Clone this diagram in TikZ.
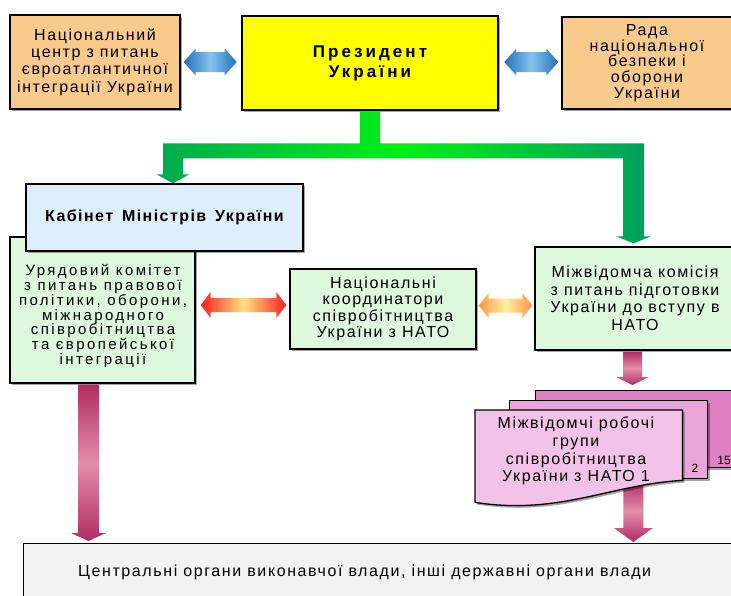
\documentclass[tikz,border=0pt]{standalone}
\usepackage{fontspec}
\setmainfont{Liberation Sans}
\newfontfamily\fa{Liberation Sans}[LetterSpace=10]
\newfontfamily\fu{Liberation Sans}[LetterSpace=16]
\newfontfamily\fp{Liberation Sans}[LetterSpace=18]
\newfontfamily\fk{Liberation Sans}[LetterSpace=9]
\usetikzlibrary{calc,shadows}
\definecolor{cTan}{RGB}{248,203,140}
\definecolor{cYel}{RGB}{255,255,0}
\definecolor{cLBlue}{RGB}{220,238,250}
\definecolor{cGreenBox}{RGB}{221,248,221}
\definecolor{cGrayBox}{RGB}{242,242,242}
\definecolor{cDa}{RGB}{243,194,232}
\definecolor{cDb}{RGB}{234,166,218}
\definecolor{cDc}{RGB}{222,128,194}
\definecolor{cBlueD}{RGB}{40,112,184}
\definecolor{cBlueL}{RGB}{130,195,240}
\definecolor{cRedE}{RGB}{255,30,30}
\definecolor{cRedM}{RGB}{255,226,130}
\definecolor{cOrE}{RGB}{255,150,70}
\definecolor{cOrM}{RGB}{255,238,160}
\definecolor{cPinkD}{RGB}{178,44,100}
\definecolor{cPinkL}{RGB}{226,142,170}
\definecolor{cGreenL}{RGB}{0,170,80}
\definecolor{cGreenM}{RGB}{0,240,20}
\definecolor{cGreenR}{RGB}{0,158,96}
% horizontal double block arrow: style, left point, right point, shaft half, head half, head length
\newcommand{\hblockarrow}[6]{%
  \path[#1] let \p1=(#2), \p2=(#3) in
    (\x1,\y1) -- (\x1+#6pt,\y1+#5pt) -- (\x1+#6pt,\y1+#4pt) -- (\x2-#6pt,\y1+#4pt)
    -- (\x2-#6pt,\y1+#5pt) -- (\x2,\y1) -- (\x2-#6pt,\y1-#5pt) -- (\x2-#6pt,\y1-#4pt)
    -- (\x1+#6pt,\y1-#4pt) -- (\x1+#6pt,\y1-#5pt) -- cycle;}
% vertical downward block arrow: style, top point, tip point, shaft half, head half, head length
\newcommand{\vblockarrow}[6]{%
  \path[#1] let \p1=(#2), \p2=(#3) in
    (\x1-#4pt,\y1) -- (\x1+#4pt,\y1) -- (\x1+#4pt,\y2+#6pt) -- (\x1+#5pt,\y2+#6pt)
    -- (\x1,\y2) -- (\x1-#5pt,\y2+#6pt) -- (\x1-#4pt,\y2+#6pt) -- cycle;}
\begin{document}
\begin{tikzpicture}[x=1pt,y=-1pt,
  shad/.style={drop shadow={shadow xshift=2.2pt,shadow yshift=-2.2pt,opacity=0.35,fill=black}},
  box/.style={draw=black,line width=1.3pt,inner sep=0pt,align=center,shad},
  thickbox/.style={box,line width=2.6pt},
  tf/.style={font=\fa\fontsize{16}{#1}\selectfont},
  bluearr/.style={left color=cBlueD,right color=cBlueD,middle color=cBlueL},
  redarr/.style={left color=cRedE,right color=cRedE,middle color=cRedM},
  orarr/.style={left color=cOrE,right color=cOrE,middle color=cOrM},
  pinkarr/.style={top color=cPinkD,bottom color=cPinkD,middle color=cPinkL},
  greenarr/.style={left color=cGreenL,right color=cGreenR,middle color=cGreenM},
  docline/.style={draw=black,line width=1.3pt,shad}]
\path[use as bounding box] (0,0) rectangle (731,595);
\clip (0,0) rectangle (731,595);
\fill[white] (0,0) rectangle (731,595);

% bottom box
\node[box,fill=cGrayBox,anchor=north west,minimum width=760,minimum height=90] (bot) at (23,543) {};
\node[tf=18,anchor=west,inner sep=0pt] (bott) at (78,572) {Центральні органи виконавчої влади, інші державні органи влади};

% lower right pink arrow (behind the front document)
\node[inner sep=0pt,minimum width=207,minimum height=92,anchor=north west] (d1) at (475,410) {};
\coordinate (pq1) at ($(d1.south east)+(-49,-22)$);
\coordinate (pq2) at ($(pq1 |- bot.north)+(0,-1)$);
\vblockarrow{pinkarr}{pq1}{pq2}{10}{19.5}{14}

% documents
\node[box,fill=cDc,minimum width=210,minimum height=77,anchor=north west] (d15) at (535,390) {};
\node[box,fill=cDb,minimum width=198,minimum height=78,anchor=north west] (d2) at (509,400) {};
\path[docline,fill=cDa] let \p1=(d1.north west), \p2=(d1.south east) in
  (\x1,\y1) -- (\x2,\y1) -- (\x2,\y2+22pt) .. controls (\x2-72pt,\y2+18pt) and (\x1+85pt,\y2-13pt) .. (\x1,\y2) -- cycle;
\node[tf=17.7,align=center,inner sep=0pt] (d1t) at (576,451) {Міжвідомчі робочі\\групи\\співробітництва\\України з НАТО 1};
\node[font=\fontsize{12}{14}\selectfont,inner sep=0pt] (l2) at (695,468) {2};
\node[font=\fontsize{12}{14}\selectfont,inner sep=0pt] (l15) at (724,460) {15};

% top boxes
\node[box,fill=cTan,minimum width=170,minimum height=94,tf=17.3] (nc) at (95,62)
  {Національний\\центр з питань\\євроатлантичної\\інтеграції України};
\node[thickbox,fill=cYel,minimum width=256,minimum height=94,font=\fp\bfseries\fontsize{17}{20}\selectfont] (pres) at (370,63)
  {Президент\\України};
\node[box,fill=cTan,minimum width=170,minimum height=92,tf=15.8] (rada) at (647,63)
  {Рада\\національної\\безпеки і\\оборони\\України};

% green connector
\coordinate (gl) at ($(pres.south -| 173,0)+(0,72)$);
\coordinate (gr) at ($(pres.south -| 633.5,0)+(0,132)$);
\path[greenarr] let \p1=(pres.south), \p2=(gl), \p3=(gr) in
  (\x1-10pt,\y1) -- (\x1+10pt,\y1) -- (\x1+10pt,\y1-32pt) -- (\x3+10.5pt,\y1-32pt)
  -- (\x3+10.5pt,\y3+7pt) -- (\x3+17.5pt,\y3+7pt) -- (\x3,\y3) -- (\x3-17.5pt,\y3+7pt)
  -- (\x3-10.5pt,\y3+7pt) -- (\x3-10.5pt,\y1-47pt) -- (\x2+10pt,\y1-47pt)
  -- (\x2+10pt,\y2+9pt) -- (\x2+16.5pt,\y2+9pt) -- (\x2,\y2) -- (\x2-16.5pt,\y2+9pt)
  -- (\x2-10pt,\y2+9pt) -- (\x2-10pt,\y1-32pt) -- (\x1-10pt,\y1-32pt) -- cycle;

% middle boxes
\node[box,fill=cGreenBox,minimum width=185,minimum height=146] (ur) at (102.5,310) {};
\node[font=\fu\fontsize{15}{14.7}\selectfont,align=center,inner sep=0pt] (urt) at (103,316)
  {Урядовий комітет\\з питань правової\\політики, оборони,\\міжнародного\\співробітництва\\та європейської\\інтеграції};
\node[thickbox,fill=cLBlue,minimum width=277,minimum height=67,font=\fk\bfseries\fontsize{16}{19}\selectfont] (kab) at (164.5,217.5)
  {Кабінет\hspace{3pt} Міністрів\hspace{3pt} України};
\node[box,fill=cGreenBox,minimum width=186,minimum height=80,tf=16.5] (nk) at (383,309)
  {Національні\\координатори\\співробітництва\\України з НАТО};
\node[box,fill=cGreenBox,minimum width=200,minimum height=103,tf=17.5] (mk) at (635,298.5)
  {Міжвідомча комісія\\з питань підготовки\\України до вступу в\\НАТО};

% block arrows between boxes
\hblockarrow{bluearr}{$(nc.east)+(3,0)$}{$(pres.west)+(-4,0)$}{10}{13.5}{12}
\hblockarrow{bluearr}{$(pres.east)+(5,-1)$}{$(rada.west)+(-3,0)$}{10}{13.5}{12}
\hblockarrow{redarr}{$(ur.east)+(5,-5)$}{$(nk.west)+(-3,0)$}{7}{13}{10}
\hblockarrow{orarr}{$(nk.east)+(2,-3.5)$}{$(mk.west)+(-2,0)$}{7}{12.5}{10}

% pink arrows down
\coordinate (pl1) at ($(ur.south)+(-14,1)$);
\coordinate (pl2) at ($(pl1 |- bot.north)+(0,-2)$);
\vblockarrow{pinkarr}{pl1}{pl2}{10.5}{17.5}{8}
\coordinate (pr1) at ($(mk.south)+(-2.5,1)$);
\coordinate (pr2) at ($(pr1 |- d15.north)+(0,-5)$);
\vblockarrow{pinkarr}{pr1}{pr2}{9.5}{16.5}{8}
\end{tikzpicture}
\end{document}
